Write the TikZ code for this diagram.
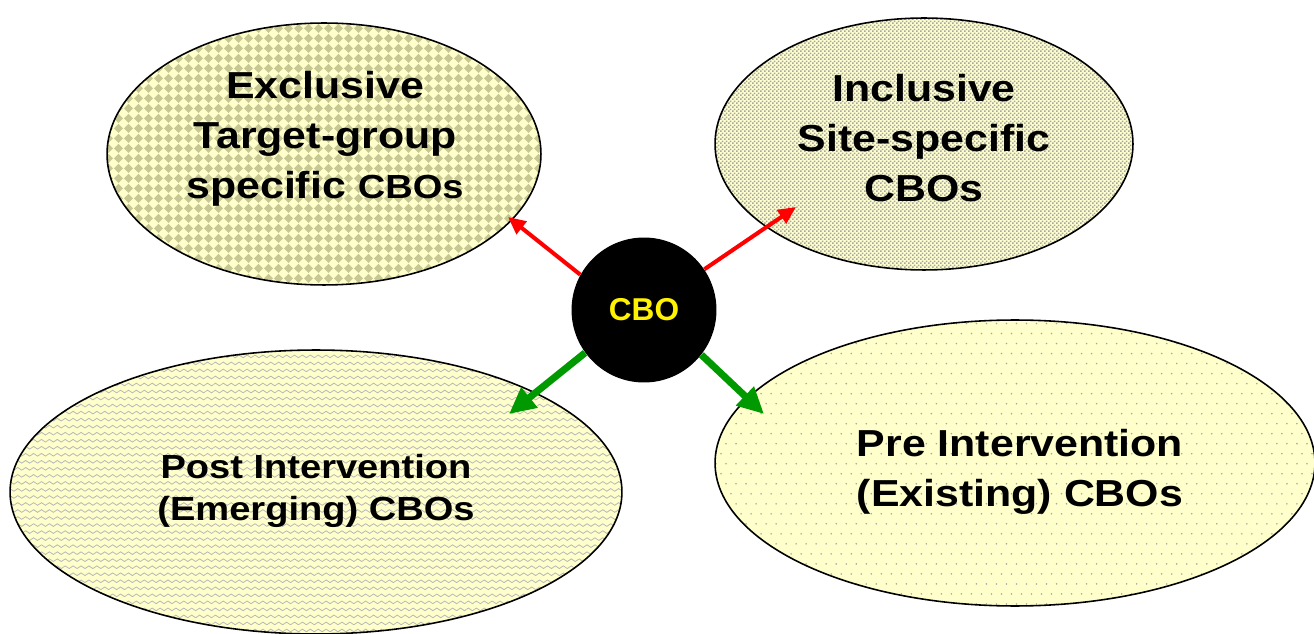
\documentclass[tikz,border=0pt]{standalone}
\usepackage{fontspec}
\usepackage{tikz}
\usetikzlibrary{shapes.geometric,arrows.meta,positioning,patterns}
\setmainfont{Liberation Sans}
\newfontfamily\wideSans[FakeStretch=1.14]{Liberation Sans}

\definecolor{paleYellow}{HTML}{FFFFCC}
\definecolor{olive}{HTML}{C8C894}
\definecolor{dotGrey}{HTML}{A6A6A6}
\definecolor{waveGrey}{HTML}{B8B8B8}
\definecolor{cboGreen}{HTML}{009900}

% --- fill patterns for the four groups ---
\pgfdeclarepatternformonly{diamondcheck}{\pgfqpoint{0pt}{0pt}}{\pgfqpoint{5.4pt}{5.4pt}}{\pgfqpoint{5.4pt}{5.4pt}}{%
  \pgfpathmoveto{\pgfqpoint{2.7pt}{0pt}}%
  \pgfpathlineto{\pgfqpoint{5.4pt}{2.7pt}}%
  \pgfpathlineto{\pgfqpoint{2.7pt}{5.4pt}}%
  \pgfpathlineto{\pgfqpoint{0pt}{2.7pt}}%
  \pgfpathclose\pgfusepath{fill}}
\pgfdeclarepatternformonly{smallsquares}{\pgfqpoint{0pt}{0pt}}{\pgfqpoint{2.4pt}{2.4pt}}{\pgfqpoint{2.4pt}{2.4pt}}{%
  \pgfpathrectangle{\pgfqpoint{0pt}{0pt}}{\pgfqpoint{1.15pt}{1.15pt}}%
  \pgfpathrectangle{\pgfqpoint{1.2pt}{1.2pt}}{\pgfqpoint{1.15pt}{1.15pt}}%
  \pgfusepath{fill}}
\pgfdeclarepatternformonly{wavelines}{\pgfqpoint{-0.5pt}{-0.5pt}}{\pgfqpoint{5pt}{4.5pt}}{\pgfqpoint{4.5pt}{4pt}}{%
  \pgfsetlinewidth{0.45pt}%
  \pgfpathmoveto{\pgfqpoint{0pt}{2pt}}%
  \pgfpathcurveto{\pgfqpoint{0.75pt}{3pt}}{\pgfqpoint{1.5pt}{3pt}}{\pgfqpoint{2.25pt}{2pt}}%
  \pgfpathcurveto{\pgfqpoint{3pt}{1pt}}{\pgfqpoint{3.75pt}{1pt}}{\pgfqpoint{4.5pt}{2pt}}%
  \pgfusepath{stroke}}
\pgfdeclarepatternformonly{sparsedots}{\pgfqpoint{-1pt}{-1pt}}{\pgfqpoint{6.7pt}{12.4pt}}{\pgfqpoint{5.7pt}{11.4pt}}{%
  \pgfpathcircle{\pgfqpoint{0pt}{0pt}}{0.5pt}%
  \pgfpathcircle{\pgfqpoint{2.85pt}{5.7pt}}{0.5pt}%
  \pgfusepath{fill}}

\begin{document}
\begin{tikzpicture}[
    x=0.02cm, y=-0.02cm,
    % --- STYLES ---
    group/.style={
        ellipse, draw=black, line width=0.9pt,
        inner sep=0pt, preaction={fill=paleYellow}
    },
    grouptext/.style={
        align=center, inner sep=0pt,
        font=\wideSans\bfseries\fontsize{21.4}{28.3}\selectfont
    },
    core/.style={
        circle, fill=black, minimum size=2.9cm, inner sep=0pt,
        text=yellow, font=\bfseries\fontsize{18}{20}\selectfont
    },
    redlink/.style={draw=red, line width=2.3pt, -{Triangle[length=10pt,width=9pt]}},
    greenlink/.style={draw=cboGreen, line width=4pt, -{Triangle[length=15pt,width=14pt]}}
]
\useasboundingbox (0,0) rectangle (1314,634);

% ===== 1. GROUPS =====
\node[group, minimum width=8.68cm, minimum height=5.24cm,
      pattern=diamondcheck, pattern color=olive] (excl) at (324,154) {};
\node[group, minimum width=8.36cm, minimum height=5.04cm,
      pattern=smallsquares, pattern color=dotGrey] (incl) at (924,144) {};
\node[group, minimum width=12.24cm, minimum height=5.68cm,
      pattern=wavelines, pattern color=waveGrey] (post) at (316,492) {};
\node[group, minimum width=12cm, minimum height=5.72cm,
      pattern=sparsedots, pattern color=dotGrey] (pre) at (1015,463) {};

\node[grouptext] (exclText) at (325,139)
    {Exclusive\\ Target-group\\ specific {\fontsize{19}{28.3}\selectfont CBOs}};
\node[grouptext] (inclText) at (924,138) {Inclusive\\ Site-specific\\ CBOs};
\node[grouptext, font=\wideSans\bfseries\fontsize{19}{24.4}\selectfont] (postText) at (316,491)
    {Post Intervention\\ (Emerging) CBOs};
\node[grouptext] (preText) at (1020,472) {Pre Intervention\\ (Existing) CBOs};

% ===== 2. CENTRE =====
\node[core] (cbo) at (644,310) {CBO};

% arrow tips sit just inside the groups
\coordinate (exclTip) at (508,217);
\coordinate (inclTip) at (796,207);
\coordinate (postTip) at (509,414);
\coordinate (preTip) at (764,414);

% ===== 3. CONNECTIONS =====
\draw[redlink] (cbo.151.5) -- (exclTip);
\draw[redlink] (cbo.34.6) -- (inclTip);
\draw[greenlink] (cbo.216.4) -- (postTip);
\draw[greenlink] (cbo.322.5) -- (preTip);

\end{tikzpicture}
\end{document}
